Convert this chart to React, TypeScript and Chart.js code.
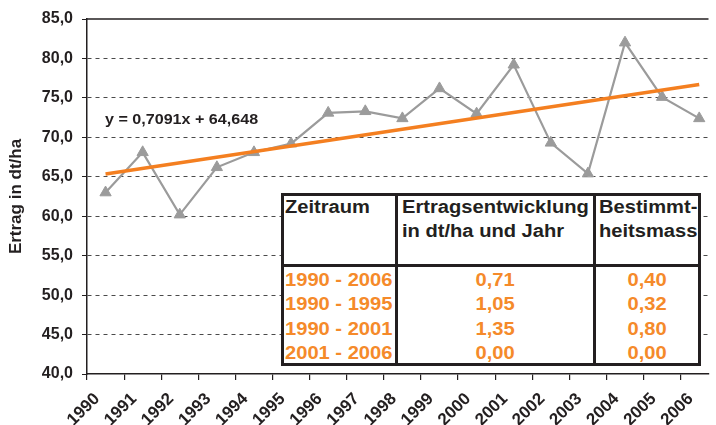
import React, { useEffect, useRef } from 'react';
import { Chart, registerables } from 'chart.js';

Chart.register(...registerables);

// ---- data ----
const years = [1990, 1991, 1992, 1993, 1994, 1995, 1996, 1997, 1998, 1999, 2000, 2001, 2002, 2003, 2004, 2005, 2006];
const yields = [63.0, 68.1, 60.2, 66.2, 68.1, 69.2, 73.1, 73.3, 72.4, 76.2, 73.0, 79.2, 69.3, 65.4, 82.0, 75.1, 72.4];
const trendYears = [1990, 2006];
const trendValues = [65.36, 76.7];
const yMin = 40;
const yMax = 85;
const yStep = 5;
const equationText = 'y = 0,7091x + 64,648';
const yTitle = 'Ertrag in dt/ha';

const headerLines = [
  ['Zeitraum'],
  ['Ertragsentwicklung', 'in dt/ha und Jahr'],
  ['Bestimmt-', 'heitsmass'],
];
const periods = ['1990 - 2006', '1990 - 1995', '1990 - 2001', '2001 - 2006'];
const trendPerYear = ['0,71', '1,05', '1,35', '0,00'];
const rSquared = ['0,40', '0,32', '0,80', '0,00'];

// ---- styles ----
const FONT = '"Liberation Sans", Arial, Helvetica, sans-serif';
const DARK = '#231f20';
const GRAY = '#9b9b9b';
const ORANGE = '#f47f20';
const TABLE_ORANGE = '#f58a2a';
const SX = 1.15;

const topBorderPlugin = {
  id: 'topBorder',
  afterDraw(chart: any) {
    const { ctx, chartArea } = chart;
    ctx.save();
    ctx.strokeStyle = DARK;
    ctx.lineWidth = 1.5;
    ctx.beginPath();
    ctx.moveTo(chartArea.left, chartArea.top);
    ctx.lineTo(chartArea.right, chartArea.top);
    ctx.stroke();
    ctx.restore();
  },
};

function Stretch({ children, origin = 'left center' }: any) {
  return (
    <span style={{ display: 'inline-block', transform: `scaleX(${SX})`, transformOrigin: origin, whiteSpace: 'nowrap' }}>
      {children}
    </span>
  );
}

export default function App() {
  const ref = useRef<HTMLCanvasElement | null>(null);

  useEffect(() => {
    if (!ref.current) return;
    const chart = new Chart(ref.current, {
      type: 'line',
      data: {
        datasets: [
          {
            label: 'Trend',
            data: trendYears.map((y, i) => ({ x: y + 0.5, y: trendValues[i] })),
            borderColor: ORANGE,
            borderWidth: 3.5,
            pointRadius: 0,
            fill: false,
            order: 0,
          },
          {
            label: 'Ertrag',
            data: years.map((y, i) => ({ x: y + 0.5, y: yields[i] })),
            borderColor: GRAY,
            backgroundColor: GRAY,
            borderWidth: 2.2,
            pointStyle: 'triangle',
            pointRadius: 6.5,
            pointBorderWidth: 1,
            pointBackgroundColor: GRAY,
            pointBorderColor: GRAY,
            fill: false,
            order: 1,
          },
        ],
      },
      options: {
        animation: false,
        responsive: false,
        maintainAspectRatio: false,
        layout: { padding: { top: 19, right: 0, left: 0, bottom: 0 } },
        plugins: { legend: { display: false }, tooltip: { enabled: false } },
        scales: {
          x: {
            type: 'linear',
            min: years[0],
            max: years[years.length - 1] + 0.75,
            afterBuildTicks: (s: any) => {
              s.ticks = s.ticks.filter((t: any) => Number.isInteger(t.value) && t.value <= years[years.length - 1]);
            },
            afterFit: (s: any) => {
              s.height = 51;
            },
            ticks: {
              stepSize: 1,
              includeBounds: false,
              autoSkip: false,
              maxRotation: 45,
              minRotation: 45,
              color: DARK,
              padding: 9,
              labelOffset: 10,
              font: { family: FONT, size: 17, weight: 'bold' },
              callback: (v: any) => String(v),
            },
            grid: { drawOnChartArea: false, tickLength: 6, color: DARK, lineWidth: 1.2 },
            border: { color: DARK, width: 1.5 },
          },
          y: {
            min: yMin,
            max: yMax,
            afterFit: (s: any) => {
              s.width = 87;
            },
            ticks: {
              stepSize: yStep,
              color: DARK,
              padding: 9,
              font: { family: FONT, size: 16, weight: 'bold' },
              callback: (v: any) => Number(v).toFixed(1).replace('.', ','),
            },
            grid: {
              color: (c: any) => (c.tick && (c.tick.value === yMin || c.tick.value === yMax) ? 'rgba(0,0,0,0)' : '#4a4a4a'),
              tickColor: DARK,
              tickLength: 5,
              lineWidth: 1,
            },
            border: { color: DARK, width: 1.5, dash: [4, 4] },
            title: {
              display: true,
              text: yTitle,
              color: DARK,
              padding: { top: 6, bottom: 0 },
              font: { family: FONT, size: 17, weight: 'bold' },
            },
          },
        },
      },
      plugins: [topBorderPlugin],
    } as any);
    return () => chart.destroy();
  }, []);

  const boxL = 281, boxT = 193, boxR = 701, boxB = 366;
  const col1 = 396, col2 = 594, headB = 265;
  const rowCenters = [279.5, 304, 328.5, 353];
  const lineH = 24;

  const headerLefts = [285, 402, 599];
  const textBase = { position: 'absolute' as const, fontFamily: FONT, fontWeight: 'bold' as const, lineHeight: `${lineH}px`, whiteSpace: 'nowrap' as const };

  return (
    <div style={{ position: 'fixed', left: 0, top: 0, width: 716, height: 425, background: '#fff', overflow: 'hidden' }}>
      <canvas ref={ref} width={716} height={425} style={{ position: 'absolute', left: 0, top: 0, width: 716, height: 425 }} />
      <div style={{ ...textBase, left: 105, top: 119 - 10, fontSize: 14, lineHeight: '20px', color: DARK }}>
        <Stretch>{equationText}</Stretch>
      </div>
      {/* table */}
      <div style={{ position: 'absolute', left: boxL, top: boxT, width: boxR - boxL, height: boxB - boxT, boxSizing: 'border-box', border: `3px solid ${DARK}`, background: '#fff' }} />
      <div style={{ position: 'absolute', left: col1 - 1, top: boxT, width: 2.5, height: boxB - boxT, background: DARK }} />
      <div style={{ position: 'absolute', left: col2 - 1, top: boxT, width: 3, height: boxB - boxT, background: DARK }} />
      <div style={{ position: 'absolute', left: boxL, top: headB - 1, width: boxR - boxL, height: 2.5, background: DARK }} />
      {headerLines.map((lines, ci) =>
        lines.map((t, li) => (
          <div key={`h${ci}-${li}`} style={{ ...textBase, left: headerLefts[ci], top: 207 - lineH / 2 + li * lineH, fontSize: 17.5, color: DARK }}>
            <Stretch>{t}</Stretch>
          </div>
        ))
      )}
      {periods.map((p, i) => (
        <div key={`p${i}`} style={{ ...textBase, left: 285, top: rowCenters[i] - lineH / 2, fontSize: 17.5, color: TABLE_ORANGE }}>
          <Stretch>{p}</Stretch>
        </div>
      ))}
      {trendPerYear.map((p, i) => (
        <div key={`t${i}`} style={{ ...textBase, left: col1, width: col2 - col1, textAlign: 'center', top: rowCenters[i] - lineH / 2, fontSize: 17.5, color: TABLE_ORANGE }}>
          <Stretch origin="center center">{p}</Stretch>
        </div>
      ))}
      {rSquared.map((p, i) => (
        <div key={`r${i}`} style={{ ...textBase, left: col2, width: boxR - col2, textAlign: 'center', top: rowCenters[i] - lineH / 2, fontSize: 17.5, color: TABLE_ORANGE }}>
          <Stretch origin="center center">{p}</Stretch>
        </div>
      ))}
    </div>
  );
}
